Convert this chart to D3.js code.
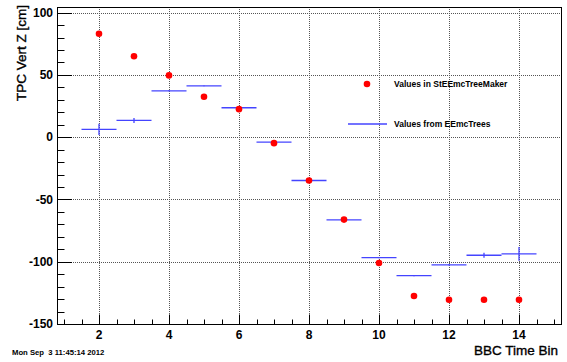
<!DOCTYPE html>
<html lang="en">
<head>
<meta charset="utf-8"/>
<title>TPC Vert Z vs BBC Time Bin</title>
<script src="https://d3js.org/d3.v7.min.js"></script>
<style>
	body { margin: 0; background: #fff; }
	svg { font-family: "Liberation Sans", Arial, sans-serif; }
	.grid line { stroke: #555; stroke-dasharray: 1,1; stroke-width: 1; }
	.tick-lbl { font-size: 12px; font-weight: bold; fill: #000; }
	.title { font-size: 13.5px; fill: #000; stroke: #000; stroke-width: 0.35px; }
</style>
</head>
<body>
<svg id="chart" width="567" height="362"></svg>
<script>
// bins of the BBC time
var bins = [2, 3, 4, 5, 6, 7, 8, 9, 10, 11, 12, 13, 14];
// red markers: Values in StEEmcTreeMaker
var treeMaker = [83, 65, 49.6, 32.5, 22.5, -4.8, -34.8, -66.2, -101, -127.5, -130.5, -130.5, -130.5];
// blue error bars: Values from EEmcTrees
var eemcTrees = [6.2, 13.4, 37.2, 41.2, 23.6, -4, -34.8, -66.4, -96.7, -111.2, -102.6, -94.8, -93.7];
var eemcErr = [4.5, 2, 0.4, 0.3, 0.3, 0.3, 0.3, 0.3, 0.5, 0.5, 0.5, 2, 5.5];
var binHalfWidth = 0.5;

var xTicks = [2, 4, 6, 8, 10, 12, 14];
var yTicks = [-150, -100, -50, 0, 50, 100];

var svg = d3.select("#chart");
// frame edges (window.top is reserved, so use other names)
var fLeft = 57, fRight = 561, fTop = 7, fBottom = 324;

var x = d3.scaleLinear().domain([0.8, 15.2]).range([fLeft, fRight]);
var y = d3.scaleLinear().domain([-150, 104.5]).range([fBottom, fTop]);

// grid
var grid = svg.append("g").attr("class", "grid");
grid.selectAll(".gx").data(xTicks).enter().append("line")
	.attr("x1", function(d) { return Math.round(x(d)) + 0.5; })
	.attr("x2", function(d) { return Math.round(x(d)) + 0.5; })
	.attr("y1", fTop).attr("y2", fBottom);
grid.selectAll(".gy").data(yTicks.filter(function(d) { return d > -150; })).enter().append("line")
	.attr("y1", function(d) { return Math.round(y(d)) + 0.5; })
	.attr("y2", function(d) { return Math.round(y(d)) + 0.5; })
	.attr("x1", fLeft).attr("x2", fRight);

// ticks (drawn inside the frame, ROOT style)
var ticks = svg.append("g").attr("stroke", "#000").attr("stroke-width", 1);
d3.range(1, 15.01, 0.5).forEach(function(v) {
	var major = xTicks.indexOf(v) >= 0;
	var px = Math.round(x(v)) + 0.5;
	ticks.append("line").attr("x1", px).attr("x2", px)
		.attr("y1", fBottom).attr("y2", fBottom - (major ? 9.5 : 4.5));
});
d3.range(-150, 101, 10).forEach(function(v) {
	var major = v % 50 === 0;
	var py = Math.round(y(v)) + 0.5;
	ticks.append("line").attr("y1", py).attr("y2", py)
		.attr("x1", fLeft).attr("x2", fLeft + (major ? 15 : 7.5));
});

// frame
svg.append("rect")
	.attr("x", fLeft + 0.5).attr("y", fTop + 0.5)
	.attr("width", fRight - fLeft).attr("height", fBottom - fTop)
	.attr("fill", "none").attr("stroke", "#000").attr("stroke-width", 1);

// tick labels
svg.append("g").selectAll("text").data(xTicks).enter().append("text")
	.attr("class", "tick-lbl")
	.attr("x", function(d) { return x(d); })
	.attr("y", 338.5)
	.attr("text-anchor", "middle")
	.text(function(d) { return d; });
svg.append("g").selectAll("text").data(yTicks).enter().append("text")
	.attr("class", "tick-lbl")
	.attr("x", 53)
	.attr("y", function(d) { return y(d); })
	.attr("dy", "0.36em")
	.attr("text-anchor", "end")
	.text(function(d) { return d; });

// axis titles
svg.append("text")
	.attr("class", "title")
	.attr("x", 558).attr("y", 355)
	.attr("text-anchor", "end")
	.text("BBC Time Bin");
svg.append("text")
	.attr("class", "title")
	.attr("transform", "translate(26,5) rotate(-90)")
	.attr("text-anchor", "end")
	.text("TPC Vert Z [cm]");

// date stamp
svg.append("text")
	.attr("x", 12).attr("y", 355)
	.attr("font-size", "7.7px")
	.attr("font-weight", "bold")
	.attr("xml:space", "preserve")
	.text("Mon Sep  3 11:45:14 2012");

// blue graph with errors
var blue = "#4444ff";
var eg = svg.append("g").attr("stroke", blue).attr("stroke-width", 1.3);
bins.forEach(function(b, i) {
	eg.append("line")
		.attr("x1", x(b - binHalfWidth)).attr("x2", x(b + binHalfWidth))
		.attr("y1", y(eemcTrees[i])).attr("y2", y(eemcTrees[i]));
	eg.append("line")
		.attr("x1", x(b)).attr("x2", x(b))
		.attr("y1", y(eemcTrees[i] - eemcErr[i])).attr("y2", y(eemcTrees[i] + eemcErr[i]));
});

// red markers
svg.append("g").selectAll("circle").data(bins).enter().append("circle")
	.attr("cx", function(d) { return x(d); })
	.attr("cy", function(d, i) { return y(treeMaker[i]); })
	.attr("r", 3.3)
	.attr("fill", "#ff0000");

// legend
var lg = svg.append("g");
lg.append("circle").attr("cx", 367).attr("cy", 84).attr("r", 3.3).attr("fill", "#ff0000");
lg.append("text").attr("x", 394).attr("y", 84).attr("dy", "0.35em")
	.attr("font-size", "8.5px").attr("font-weight", "bold")
	.text("Values in StEEmcTreeMaker");
lg.append("line").attr("x1", 348).attr("x2", 387).attr("y1", 124).attr("y2", 124)
	.attr("stroke", blue).attr("stroke-width", 1.3);
lg.append("text").attr("x", 394).attr("y", 124).attr("dy", "0.35em")
	.attr("font-size", "8.5px").attr("font-weight", "bold")
	.text("Values from EEmcTrees");
</script>
</body>
</html>
